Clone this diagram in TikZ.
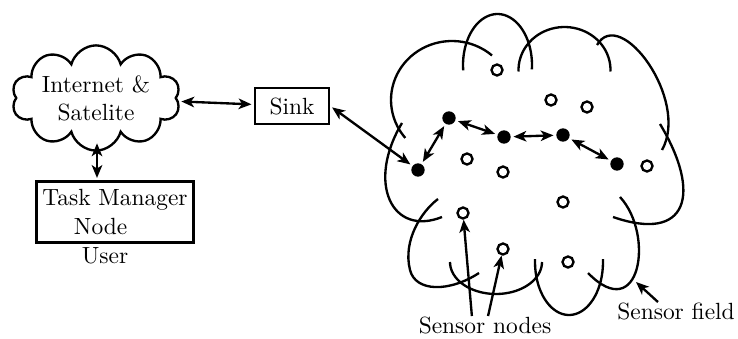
\documentclass[tikz,border=0pt]{standalone}
\usepackage{tikz}
\usetikzlibrary{arrows.meta,calc,positioning,shapes.symbols}
\tikzset{%
	box/.style      = {draw, line width=1pt, rectangle, text centered, inner sep=2.5pt},
	netcloud/.style = {draw, line width=1pt, cloud, cloud puffs=10, cloud ignores aspect, align=center, inner sep=1pt},
	relay/.style    = {circle, fill, inner sep=0pt, minimum size=0.2cm},
	sensor/.style   = {circle, draw, line width=1pt, inner sep=0pt, minimum size=0.165cm},
	label/.style    = {inner sep=0pt},
	link/.style     = {line width=1pt,<->,>={Stealth[length=5.5pt,width=4.5pt,inset=1.5pt]}, shorten >=1pt, shorten <=1pt},
	pointer/.style  = {line width=1pt,-{Stealth[length=5.5pt,width=4.5pt,inset=1.5pt]}},
	lobe/.style     = {line width=1pt, samples=40},
}
\begin{document}
\begin{tikzpicture}[x=0.015cm,y=-0.015cm]
	\useasboundingbox (0,0) rectangle (738,338);
	% left part
	\node[netcloud, minimum width=2.5cm, minimum height=1.26cm] (inet) at (96,98) {Internet \&\\Satelite};
	\node[box, minimum width=1.11cm, minimum height=0.54cm] (sink) at (292,106) {Sink};
	\node[box, align=left, minimum width=2.34cm, minimum height=0.915cm] (task) at (115,212) {Task Manager\\\hbox{\kern13.5pt Node}};
	\node[label] (user) at (105,256) {User};
	\coordinate (drop) at (97,141);
	\draw[link] (inet) -- (sink);
	\draw[link] (drop) -- (drop |- task.north);
	% sensor field outline
	\draw[lobe, domain=140:311] plot ({452+61*cos(\x)},{100+59*sin(\x)});
	\draw[lobe, domain=174:365] plot ({497.5+34.5*cos(\x)},{65+51*sin(\x)});
	\draw[lobe, domain=178:362] plot ({564.5+46*cos(\x)},{70+43*sin(\x)});
	\draw[lobe] (597,45) .. controls (620,5) and (690,100) .. (662,150);
	\draw[lobe] (660,124) .. controls (702,194) and (688,243) .. (613,217);
	\draw[lobe] (620,197) .. controls (655,235) and (640,326) .. (588,273);
	\draw[lobe, domain=-3:183] plot ({569+34*cos(\x)},{262+53*sin(\x)});
	\draw[lobe, domain=0:180] plot ({496+46*cos(\x)},{262+32*sin(\x)});
	\draw[lobe] (479,273) .. controls (449,292.5) and (415.5,292) .. (410,270)
	                      .. controls (402.5,240) and (422,211) .. (438,199);
	\draw[lobe] (402,123) .. controls (366,183) and (392,237) .. (442,217);
	% relay nodes
	\node[relay] (n1) at (418,170) {};
	\node[relay] (n2) at (449,118) {};
	\node[relay] (n3) at (504,137) {};
	\node[relay] (n4) at (563,135) {};
	\node[relay] (n5) at (617,164) {};
	% plain sensor nodes
	\node[sensor] (h1) at (497,70) {};
	\node[sensor] (h2) at (551,100) {};
	\node[sensor] (h3) at (587,107) {};
	\node[sensor] (h4) at (467,159) {};
	\node[sensor] (h5) at (503,172) {};
	\node[sensor] (h6) at (647,166) {};
	\node[sensor] (h7) at (563,202) {};
	\node[sensor] (h8) at (463,213) {};
	\node[sensor] (h9) at (503,249) {};
	\node[sensor] (h10) at (568,262) {};
	% route
	\draw[link] (sink.east) -- (n1);
	\draw[link] (n1) -- (n2);
	\draw[link] (n2) -- (n3);
	\draw[link] (n3) -- (n4);
	\draw[link] (n4) -- (n5);
	% labels
	\node[label] (snodes) at (485,325) {Sensor nodes};
	\node[label] (sfield) at (676,311) {Sensor field};
	\coordinate (rim) at (636,282);
	\draw[pointer] ([xshift=-5.6pt]snodes.north) -- (h8);
	\draw[pointer] ([xshift=1.3pt]snodes.north) -- (h9);
	\draw[pointer] ([xshift=-7.7pt]sfield.north) -- (rim);
\end{tikzpicture}
\end{document}
